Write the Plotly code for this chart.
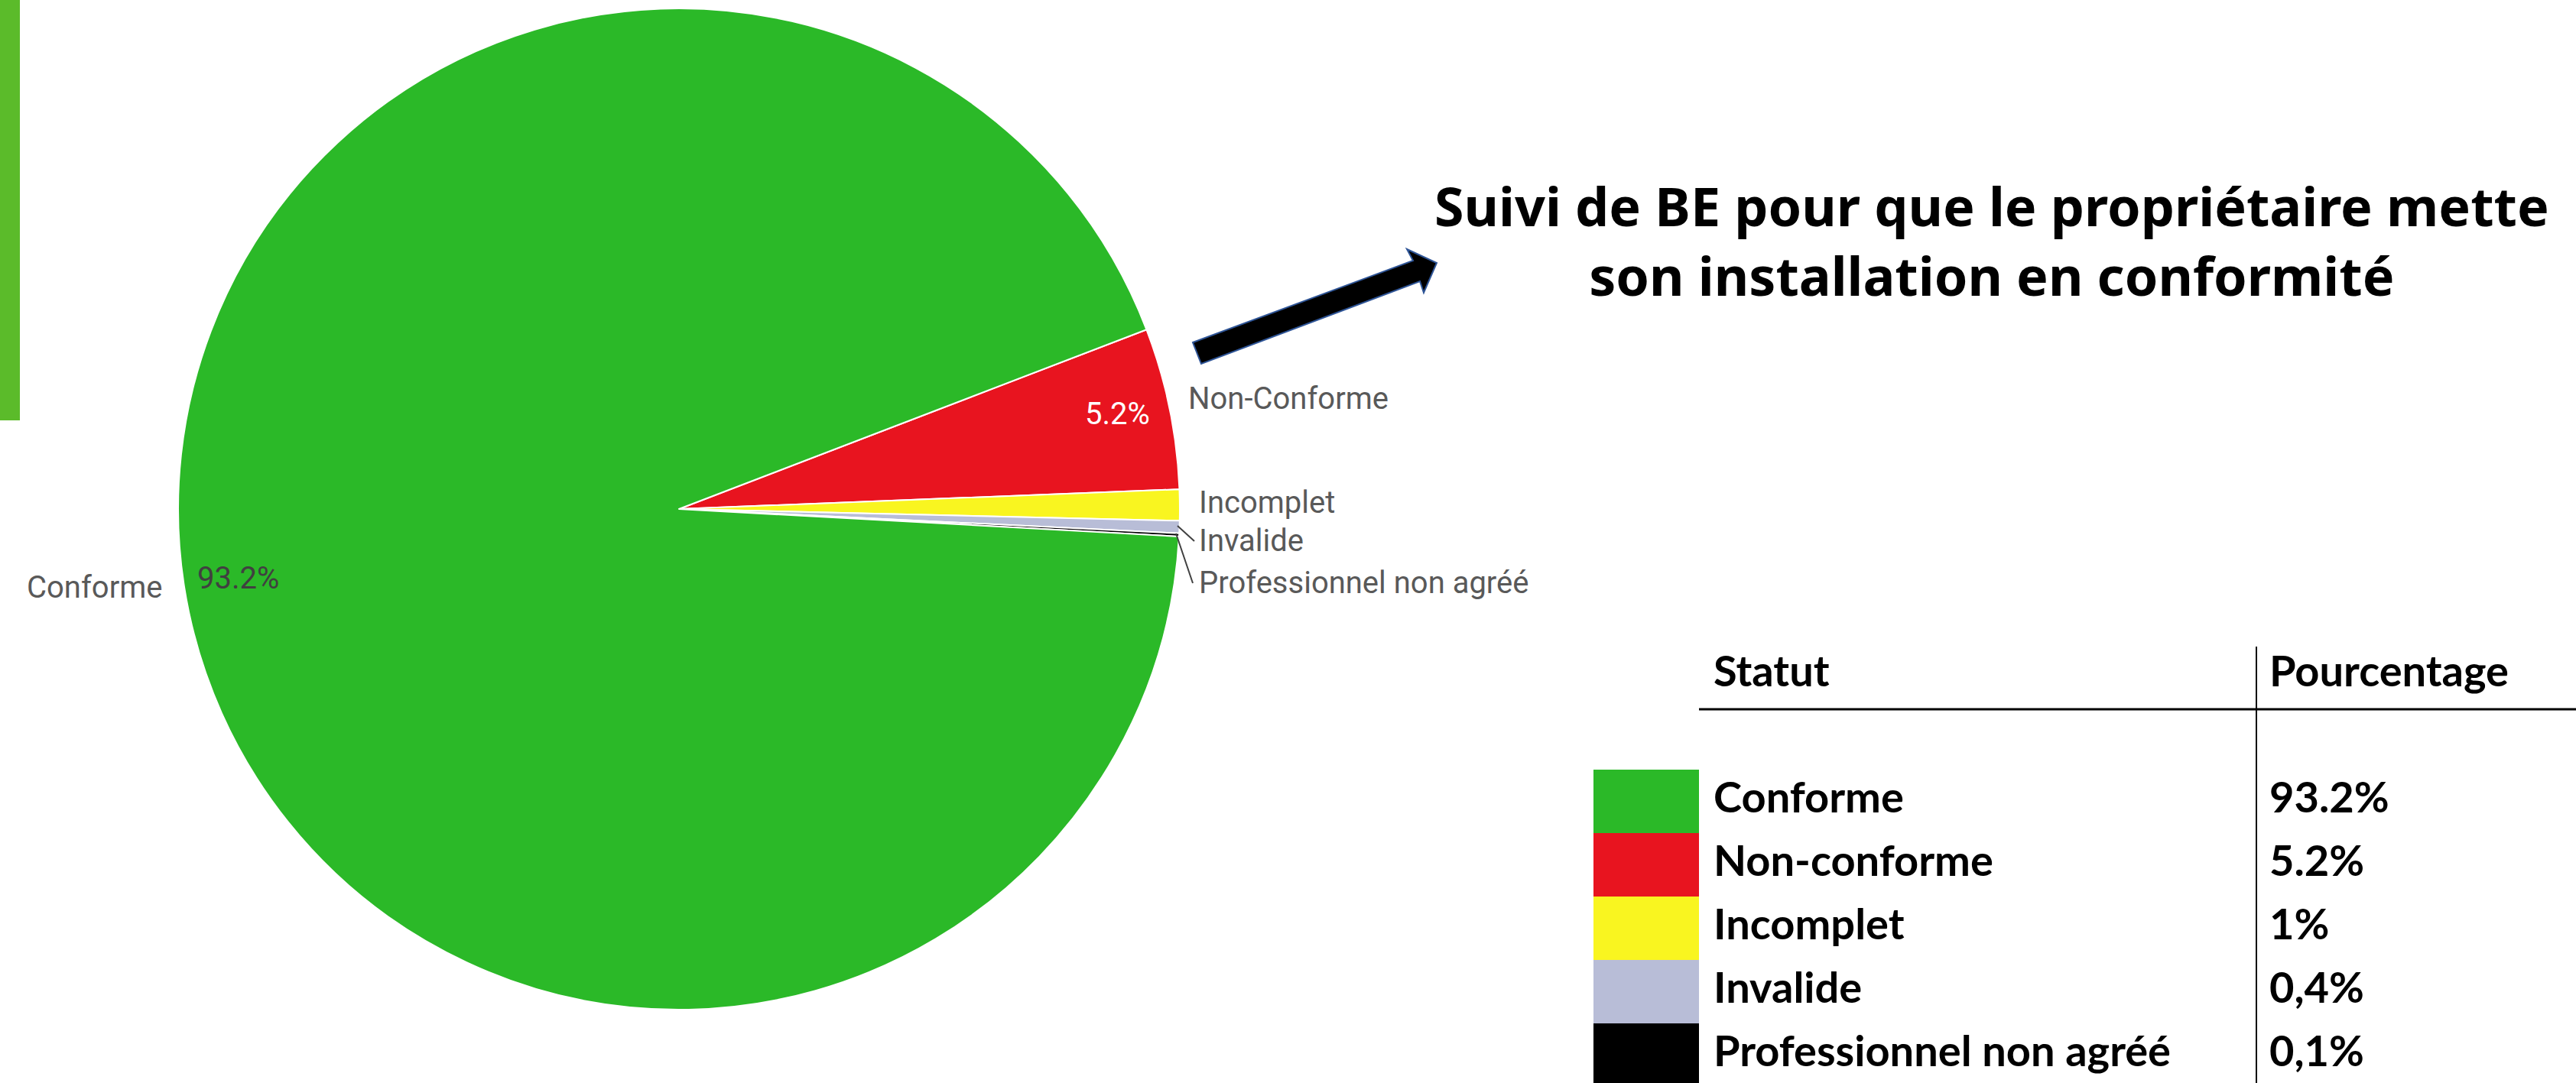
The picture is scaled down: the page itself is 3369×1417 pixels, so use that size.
import plotly.graph_objects as go

# ---------------- data ----------------
statuts = ["Non-conforme", "Incomplet", "Invalide", "Professionnel non agréé", "Conforme"]
pie_labels = ["Non-Conforme", "Incomplet", "Invalide", "Professionnel non agréé", "Conforme"]
values = [5.2, 1.0, 0.4, 0.1, 93.2]
colors = ["#E8141F", "#F9F520", "#B8BDD7", "#000000", "#2BB928"]

table_statut = ["Conforme", "Non-conforme", "Incomplet", "Invalide", "Professionnel non agréé"]
table_pct = ["93.2%", "5.2%", "1%", "0,4%", "0,1%"]
table_colors = ["#2BB928", "#E8141F", "#F9F520", "#B8BDD7", "#000000"]
table_header = ["Statut", "Pourcentage"]

title_lines = ["Suivi de BE pour que le propriétaire mette", "son installation en conformité"]

W, H = 3369, 1417


def px(x):
    return x / W


def py(y):
    return 1 - y / H


# pie geometry (pixels)
cx, cy, r = 888, 666, 655

fig = go.Figure()

fig.add_trace(go.Pie(
    labels=pie_labels, values=values, sort=False, direction="clockwise",
    rotation=69, textinfo="none", hoverinfo="label+percent",
    marker=dict(colors=colors, line=dict(color="white", width=2)),
    domain=dict(x=[px(cx - r), px(cx + r)], y=[py(cy + r), py(cy - r)]),
    showlegend=False,
))

# ---------------- table (hidden cartesian axes) ----------------
tfont = dict(family="Lato", size=56, color="#000000", weight="bold")
rows = list(range(len(table_statut)))
fig.add_trace(go.Bar(
    orientation="h", y=rows, x=[138] * len(rows), base=0, width=1.0,
    marker=dict(color=table_colors, line=dict(width=0)),
    xaxis="x2", yaxis="y2", showlegend=False, hoverinfo="skip",
))
fig.add_trace(go.Scatter(
    x=[157] * len(rows), y=rows, text=table_statut, mode="text",
    textposition="middle right", textfont=tfont,
    xaxis="x2", yaxis="y2", showlegend=False, hoverinfo="skip",
))
fig.add_trace(go.Scatter(
    x=[884] * len(rows), y=rows, text=table_pct, mode="text",
    textposition="middle right", textfont=tfont,
    xaxis="x2", yaxis="y2", showlegend=False, hoverinfo="skip",
))
fig.add_trace(go.Scatter(
    x=[157, 884], y=[-1.98, -1.98], text=table_header, mode="text",
    textposition="middle right", textfont=tfont,
    xaxis="x2", yaxis="y2", showlegend=False, hoverinfo="skip",
))

row0_top, row_h = 1007, 83
ytop_px, ybot_px = 846, 1417


def yrow(pix):
    return (pix - row0_top) / row_h - 0.5


shapes = []
# header line and vertical separator
shapes.append(dict(type="line", xref="x2", yref="y2", x0=138, x1=1285,
                   y0=yrow(928), y1=yrow(928), line=dict(color="#000000", width=3)))
shapes.append(dict(type="line", xref="x2", yref="y2", x0=867, x1=867,
                   y0=yrow(846), y1=yrow(1417), line=dict(color="#000000", width=2)))

# left green bar
shapes.append(dict(type="rect", xref="paper", yref="paper", x0=0, x1=px(26),
                   y0=py(550), y1=1, fillcolor="#5BBB2A", line=dict(width=0), layer="below"))

# arrow
arrow_pts = [(1560, 448), (1848, 341), (1840, 326), (1879, 344), (1862, 383), (1857, 368), (1571, 476)]
path = "M " + " L ".join(f"{px(x):.5f},{py(y):.5f}" for x, y in arrow_pts) + " Z"
shapes.append(dict(type="path", xref="paper", yref="paper", path=path,
                   fillcolor="#000000", line=dict(color="#2F5597", width=2)))

# leader lines for small slices
for (x0, y0, x1, y1) in [(1540, 688, 1562, 708), (1538, 698, 1560, 763)]:
    shapes.append(dict(type="line", xref="paper", yref="paper", x0=px(x0), y0=py(y0),
                       x1=px(x1), y1=py(y1), line=dict(color="#404040", width=2)))

annotations = []
lab_font = dict(family="Roboto", size=40, color="#595959")
# outside labels
lab_pos = {
    "Non-Conforme": (1552, 521),
    "Incomplet": (1566, 657),
    "Invalide": (1566, 707),
    "Professionnel non agréé": (1566, 762),
}
for lab in pie_labels:
    if lab in lab_pos:
        x, y = lab_pos[lab]
        annotations.append(dict(x=px(x), y=py(y), xref="paper", yref="paper", text=lab,
                                showarrow=False, xanchor="left", yanchor="middle", font=lab_font))
annotations.append(dict(x=px(215), y=py(768), xref="paper", yref="paper", text=pie_labels[4],
                        showarrow=False, xanchor="right", yanchor="middle", font=lab_font))
# inside percentages
annotations.append(dict(x=px(256), y=py(756), xref="paper", yref="paper",
                        text=f"{values[4]:.1f}%", showarrow=False, xanchor="left", yanchor="middle",
                        font=dict(family="Roboto", size=40, color="#404040")))
annotations.append(dict(x=px(1506), y=py(541), xref="paper", yref="paper",
                        text=f"{values[0]:.1f}%", showarrow=False, xanchor="right", yanchor="middle",
                        font=dict(family="Roboto", size=40, color="#FFFFFF")))
# title (two lines, one text)
annotations.append(dict(x=px(2605), y=py(314), xref="paper", yref="paper",
                        text="<b>" + "<br>".join(title_lines) + "</b>",
                        showarrow=False, xanchor="center", yanchor="middle", align="center",
                        font=dict(family="Noto Sans", size=70, color="#000000")))

fig.update_layout(
    width=W, height=H, margin=dict(l=0, r=0, t=0, b=0),
    paper_bgcolor="white", plot_bgcolor="white",
    xaxis2=dict(domain=[px(2084), 1], range=[0, 1285], visible=False, anchor="y2", fixedrange=True),
    yaxis2=dict(domain=[0, py(ytop_px)], range=[yrow(ybot_px), yrow(ytop_px)], visible=False,
                anchor="x2", fixedrange=True),
    shapes=shapes, annotations=annotations, showlegend=False,
)
fig.write_html("out.html", config={"displayModeBar": False},
               post_script="document.body.style.margin='0';")
